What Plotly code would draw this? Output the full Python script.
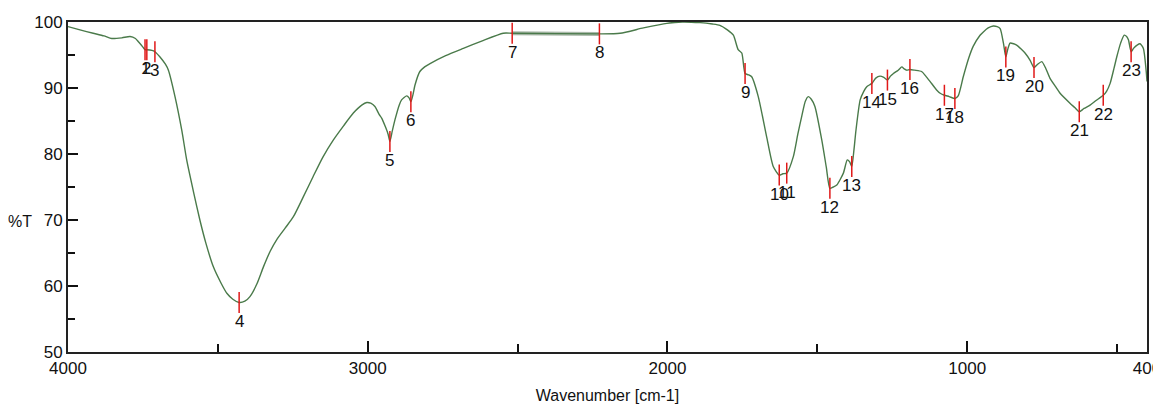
import plotly.graph_objects as go

# Spectrum (wavenumber cm-1, %T)
wavenumber = [4000, 3960, 3916, 3880, 3854, 3820, 3793, 3775, 3765, 3750, 3743, 3737, 3720, 3710,
              3693, 3675, 3665, 3643, 3620, 3604, 3580, 3560, 3540, 3515, 3490, 3470, 3450, 3429,
              3410, 3393, 3370, 3348, 3325, 3304, 3275, 3248, 3215, 3182, 3150, 3115, 3080, 3048,
              3020, 3003, 2990, 2976, 2962, 2953, 2940, 2932, 2926, 2918, 2909, 2895, 2887, 2870,
              2862, 2856, 2849, 2842, 2826, 2810, 2792, 2740, 2681, 2620, 2548, 2518, 2227, 2158,
              2080, 2002, 1950, 1891, 1850, 1825, 1800, 1780, 1764, 1752, 1741, 1730, 1719, 1697,
              1669, 1647, 1627, 1615, 1602, 1580, 1565, 1552, 1540, 1530, 1520, 1508, 1485, 1470,
              1458, 1447, 1435, 1413, 1400, 1392, 1385, 1378, 1371, 1357, 1345, 1335, 1318, 1305,
              1291, 1278, 1266, 1256, 1246, 1230, 1218, 1210, 1202, 1191, 1175, 1152, 1138, 1124,
              1102, 1090, 1076, 1060, 1041, 1030, 1013, 995, 980, 957, 946, 930, 913, 900, 890,
              879, 871, 865, 857, 845, 835, 820, 807, 790, 777, 765, 751, 738, 724, 705, 690, 657,
              640, 626, 610, 590, 570, 546, 535, 523, 510, 501, 488, 476, 468, 462, 453, 445, 433,
              423, 412, 403, 400]
transmittance = [99.3, 98.8, 98.3, 97.9, 97.5, 97.6, 97.8, 97.5, 97.0, 96.2, 95.8, 95.8, 95.7, 95.5,
                 94.7, 93.6, 92.7, 88.7, 83.5, 79.1, 74.0, 70.0, 66.5, 62.9, 60.5, 58.9, 58.0, 57.5,
                 57.7, 58.4, 60.3, 62.9, 65.3, 67.0, 68.8, 70.5, 73.5, 76.6, 79.5, 82.1, 84.3, 86.2,
                 87.4, 87.8, 87.7, 87.2, 86.0, 85.4, 84.0, 83.0, 81.9, 83.5, 85.2, 87.4, 88.2, 88.8,
                 88.5, 87.9, 89.0, 90.5, 92.5, 93.2, 93.7, 94.9, 96.0, 97.1, 98.3, 98.3, 98.2, 98.3,
                 99.1, 99.8, 100.0, 99.9, 99.7, 99.5, 98.8, 98.0, 95.8, 95.3, 92.2, 92.0, 91.7, 88.7,
                 82.6, 78.1, 76.8, 77.0, 77.1, 79.6, 83.0, 85.7, 88.0, 88.7, 88.3, 87.2, 82.1, 78.0,
                 74.8, 75.0, 75.3, 77.1, 79.1, 78.8, 78.1, 80.5, 83.6, 88.2, 89.5, 90.2, 90.7, 91.5,
                 91.8, 91.6, 91.2, 91.8, 92.2, 92.7, 93.2, 92.9, 92.7, 92.8, 92.7, 92.5, 91.8, 91.0,
                 89.7, 89.2, 88.9, 88.7, 88.4, 88.8, 91.7, 94.5, 96.3, 98.0, 98.5, 99.1, 99.4, 99.3, 99.0,
                 96.8, 94.7, 95.8, 96.8, 96.7, 96.5, 95.9, 95.3, 94.2, 93.1, 93.6, 94.0, 93.0, 91.5, 90.2, 89.2, 87.7,
                 87.0, 86.4, 86.9, 87.4, 88.1, 88.9, 89.5, 90.7, 93.0, 94.7, 96.8, 98.0, 97.8, 97.3, 95.5, 96.0, 96.5,
                 96.7, 96.0, 92.7, 91.0]

# Picked peaks
peak_labels = [str(i) for i in range(1, 24)]
peak_wn = [3743, 3737, 3710, 3429, 2926, 2856, 2518, 2227, 1741, 1627, 1602, 1458, 1385,
           1318, 1266, 1191, 1076, 1041, 871, 777, 626, 546, 453]
peak_t = [95.8, 95.8, 95.5, 57.5, 81.9, 87.9, 98.3, 98.2, 92.2, 76.8, 77.1, 74.8, 78.1,
          90.7, 91.2, 92.8, 88.9, 88.4, 94.7, 93.1, 86.4, 88.9, 95.5]

x_ticks = [4000, 3000, 2000, 1000, 400]
x_minor = [3500, 2500, 1500, 500]

FONT = "Liberation Sans, Arial, sans-serif"

fig = go.Figure()

# light band between peaks 7 and 8
i7 = wavenumber.index(peak_wn[6])
i8 = wavenumber.index(peak_wn[7])
fig.add_trace(go.Scatter(x=wavenumber[i7:i8 + 1], y=transmittance[i7:i8 + 1], mode="lines",
                         line=dict(color="#a9b8a9", width=4), hoverinfo="skip", showlegend=False))

fig.add_trace(go.Scatter(x=wavenumber, y=transmittance, mode="lines",
                         line=dict(color="#4a7a4a", width=1.4, shape="spline", smoothing=0.6),
                         showlegend=False))

fig.add_trace(go.Scatter(x=peak_wn, y=peak_t, mode="markers",
                         marker=dict(symbol="line-ns", size=15, line=dict(color="#e01818", width=1.5)),
                         showlegend=False))

for lab, xv, yv in zip(peak_labels, peak_wn, peak_t):
    fig.add_annotation(x=xv, y=yv, text=lab, showarrow=False, yshift=-19,
                       font=dict(family=FONT, size=17, color="#111111"))

fig.add_annotation(xref="paper", yref="paper", x=-0.0445, y=0.394, text="%T", showarrow=False,
                   xanchor="center", yanchor="middle",
                   font=dict(family=FONT, size=16, color="#111111"))

# the page body has an 8px margin, so the figure is sized/offset to compensate
fig.update_layout(
    width=1153, height=399,
    margin=dict(l=60, r=14, t=14, b=55),
    paper_bgcolor="white", plot_bgcolor="white",
    font=dict(family=FONT, size=17, color="#111111"),
    showlegend=False,
)
fig.update_xaxes(range=[4000, 400], tickmode="array", tickvals=x_ticks,
                 ticktext=[str(v) for v in x_ticks], automargin=False,
                 ticklabeloverflow="allow",
                 ticks="inside", ticklen=11, tickwidth=1.5, tickcolor="#111111",
                 minor=dict(tickmode="array", tickvals=x_minor, ticks="inside", ticklen=8,
                            tickwidth=1.5, tickcolor="#111111"),
                 showline=True, linecolor="#222222", linewidth=2, mirror=True,
                 showgrid=False, zeroline=False,
                 title=dict(text="Wavenumber [cm-1]", standoff=12, font=dict(size=16)))
fig.update_yaxes(range=[50, 100], tickmode="linear", tick0=50, dtick=10, automargin=False,
                 ticklabeloverflow="allow",
                 ticks="inside", ticklen=10, tickwidth=1.5, tickcolor="#111111",
                 minor=dict(tick0=55, dtick=10, ticks="inside", ticklen=7, tickwidth=1.5,
                            tickcolor="#111111"),
                 showline=True, linecolor="#222222", linewidth=2, mirror=True,
                 showgrid=False, zeroline=False)

fig.write_html("out.html")
